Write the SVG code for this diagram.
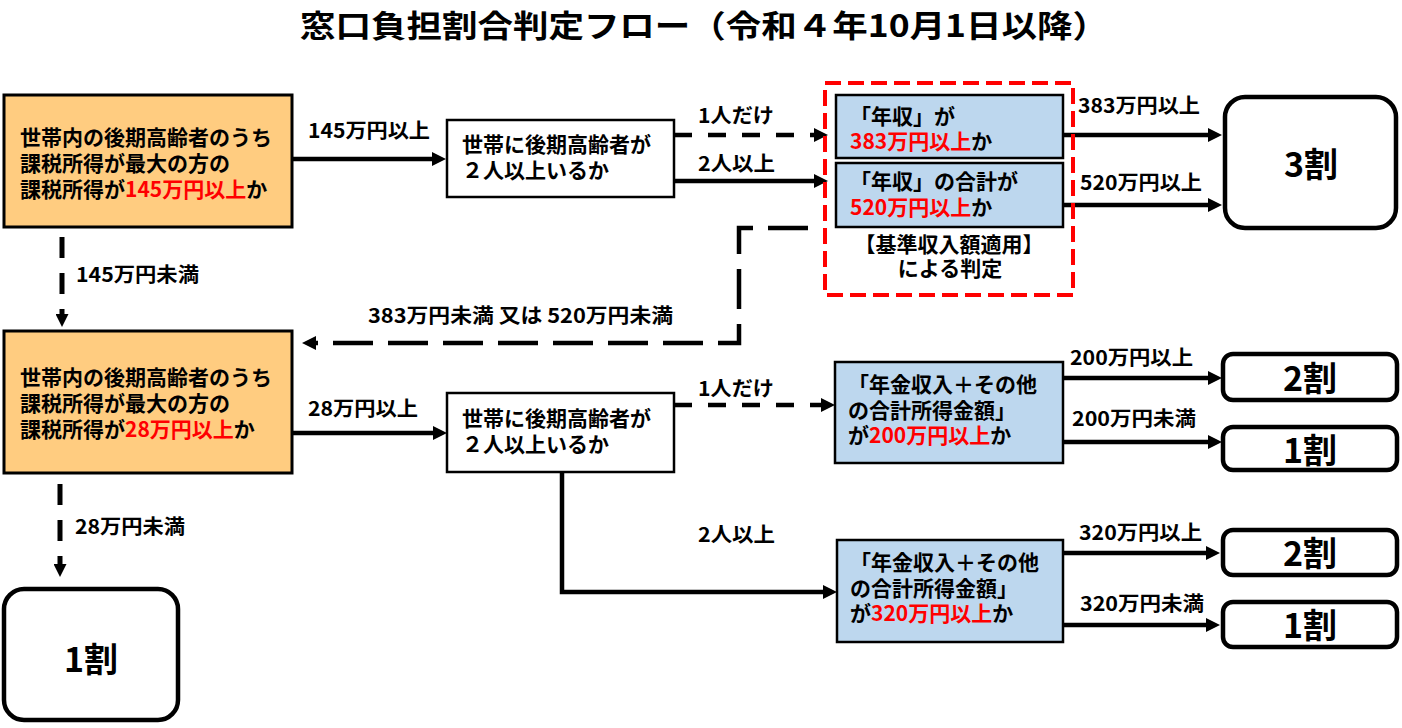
<svg xmlns="http://www.w3.org/2000/svg" width="1402" height="728" viewBox="0 0 1402 728">
<style>
text{font-family:"Noto Sans CJK JP","Noto Sans",sans-serif;fill:#000;font-weight:bold}
.title{font-size:31px}
.bt{font-size:21px}
.lb{font-size:20px}
.res{font-size:34px;text-anchor:middle}
.red{fill:#FF0000}
.orange{fill:#FFCC80;stroke:#000;stroke-width:3}
.white{fill:#FFF;stroke:#000;stroke-width:2.5}
.blue{fill:#BDD7EE;stroke:#000;stroke-width:2.5}
.result{fill:#FFF;stroke:#000;stroke-width:4.5}
.solid{fill:none;stroke:#000;stroke-width:4.5;marker-end:url(#ah)}
.dash{fill:none;stroke:#000;stroke-width:4.5;stroke-dasharray:18 16;marker-end:url(#ah)}
.dashlong{fill:none;stroke:#000;stroke-width:4.5;stroke-dasharray:40 15;marker-end:url(#ah)}
.dashv{fill:none;stroke:#000;stroke-width:5;stroke-dasharray:21 15;marker-end:url(#ahs)}
</style>
<defs>
<marker id="ah" viewBox="0 0 10 10" refX="0" refY="5" markerUnits="userSpaceOnUse" markerWidth="14" markerHeight="14" orient="auto"><path d="M0,0 L10,5 L0,10 z" fill="#000"/></marker>
<marker id="ahs" viewBox="0 0 10 10" refX="0" refY="5" markerUnits="userSpaceOnUse" markerWidth="13" markerHeight="13" orient="auto"><path d="M0,0 L10,5 L0,10 z" fill="#000"/></marker>
</defs>
<rect width="1402" height="728" fill="#FFF"/>
<text class="title" x="300" y="37" textLength="808" lengthAdjust="spacingAndGlyphs">窓口負担割合判定フロー（令和４年10月1日以降）</text>

<g id="connectors">
<path class="solid" d="M292,159 H432"/>
<path class="dash" d="M674,135 H814"/>
<path class="solid" d="M674,181 H814"/>
<path class="solid" d="M1063,135 H1208"/>
<path class="solid" d="M1063,205 H1208"/>
<path class="dashlong" d="M808,228 H739 V343 H316"/>
<path class="dashv" d="M62,237 V314"/>
<path class="solid" d="M292,433 H433"/>
<path class="dash" d="M674,405 H821"/>
<path class="solid" d="M562,472 V592 H823"/>
<path class="solid" d="M1063,378 H1208"/>
<path class="solid" d="M1063,442 H1208"/>
<path class="solid" d="M1064,553 H1206"/>
<path class="solid" d="M1064,625 H1206"/>
<path class="dashv" d="M60,484 V564"/>
<text class="lb" x="308" y="138" textLength="122" lengthAdjust="spacingAndGlyphs">145万円以上</text>
<text class="lb" x="698" y="123" textLength="76" lengthAdjust="spacingAndGlyphs">1人だけ</text>
<text class="lb" x="698" y="171" textLength="77" lengthAdjust="spacingAndGlyphs">2人以上</text>
<text class="lb" x="1078" y="113" textLength="122" lengthAdjust="spacingAndGlyphs">383万円以上</text>
<text class="lb" x="1080" y="190" textLength="122" lengthAdjust="spacingAndGlyphs">520万円以上</text>
<text class="lb" x="76" y="282" textLength="123" lengthAdjust="spacingAndGlyphs">145万円未満</text>
<text class="lb" x="368" y="323" textLength="305" lengthAdjust="spacingAndGlyphs">383万円未満 又は 520万円未満</text>
<text class="lb" x="308" y="416" textLength="110" lengthAdjust="spacingAndGlyphs">28万円以上</text>
<text class="lb" x="698" y="396" textLength="76" lengthAdjust="spacingAndGlyphs">1人だけ</text>
<text class="lb" x="698" y="542" textLength="77" lengthAdjust="spacingAndGlyphs">2人以上</text>
<text class="lb" x="1070" y="365" textLength="123" lengthAdjust="spacingAndGlyphs">200万円以上</text>
<text class="lb" x="1072" y="426" textLength="124" lengthAdjust="spacingAndGlyphs">200万円未満</text>
<text class="lb" x="1079" y="540" textLength="123" lengthAdjust="spacingAndGlyphs">320万円以上</text>
<text class="lb" x="1080" y="611" textLength="124" lengthAdjust="spacingAndGlyphs">320万円未満</text>
<text class="lb" x="75" y="534" textLength="110" lengthAdjust="spacingAndGlyphs">28万円未満</text>
</g>

<g id="n-box1">
<rect class="orange" x="4" y="95" width="288" height="132"/>
<text class="bt" x="20" y="145">世帯内の後期高齢者のうち</text>
<text class="bt" x="20" y="171">課税所得が最大の方の</text>
<text class="bt" x="20" y="197">課税所得が<tspan class="red">145万円以上</tspan>か</text>
</g>

<g id="n-box2">
<rect class="white" x="447" y="120" width="227" height="77"/>
<text class="bt" x="462" y="152">世帯に後期高齢者が</text>
<text class="bt" x="462" y="178">２人以上いるか</text>
</g>

<g id="n-redgroup">
<rect x="825" y="83" width="248" height="212" fill="none" stroke="#FF0000" stroke-width="4" stroke-dasharray="16 7"/>
<text class="bt" x="949" y="252" text-anchor="middle">【基準収入額適用】</text>
<text class="bt" x="950" y="276" text-anchor="middle">による判定</text>
</g>

<g id="n-blue1">
<rect class="blue" x="836" y="95" width="227" height="63"/>
<text class="bt" x="850" y="124">「年収」が</text>
<text class="bt" x="850" y="149"><tspan class="red">383万円以上</tspan>か</text>
</g>

<g id="n-blue2">
<rect class="blue" x="836" y="163" width="227" height="64"/>
<text class="bt" x="850" y="189">「年収」の合計が</text>
<text class="bt" x="850" y="215"><tspan class="red">520万円以上</tspan>か</text>
</g>

<g id="n-r3">
<rect class="result" x="1225" y="97" width="171" height="131" rx="20"/>
<text class="res" x="1311" y="177">3割</text>
</g>

<g id="n-box3">
<rect class="orange" x="4" y="331" width="288" height="142"/>
<text class="bt" x="20" y="385">世帯内の後期高齢者のうち</text>
<text class="bt" x="20" y="411">課税所得が最大の方の</text>
<text class="bt" x="20" y="437">課税所得が<tspan class="red">28万円以上</tspan>か</text>
</g>

<g id="n-box4">
<rect class="white" x="447" y="393" width="227" height="79"/>
<text class="bt" x="462" y="426">世帯に後期高齢者が</text>
<text class="bt" x="462" y="452">２人以上いるか</text>
</g>

<g id="n-blue200">
<rect class="blue" x="835" y="362" width="228" height="101"/>
<text class="bt" x="848" y="392">「年金収入＋その他</text>
<text class="bt" x="848" y="418">の合計所得金額」</text>
<text class="bt" x="848" y="443">が<tspan class="red">200万円以上</tspan>か</text>
</g>

<g id="n-r2a">
<rect class="result" x="1223" y="354" width="174" height="46" rx="10"/>
<text class="res" x="1310" y="391">2割</text>
</g>
<g id="n-r1a">
<rect class="result" x="1223" y="427" width="174" height="43" rx="10"/>
<text class="res" x="1310" y="463">1割</text>
</g>

<g id="n-blue320">
<rect class="blue" x="837" y="540" width="226" height="102"/>
<text class="bt" x="850" y="570">「年金収入＋その他</text>
<text class="bt" x="850" y="596">の合計所得金額」</text>
<text class="bt" x="850" y="621">が<tspan class="red">320万円以上</tspan>か</text>
</g>

<g id="n-r2b">
<rect class="result" x="1223" y="530" width="174" height="45" rx="10"/>
<text class="res" x="1310" y="566">2割</text>
</g>
<g id="n-r1b">
<rect class="result" x="1223" y="602" width="174" height="45" rx="10"/>
<text class="res" x="1310" y="638">1割</text>
</g>

<g id="n-r1main">
<rect class="result" x="4" y="589" width="174" height="131" rx="20"/>
<text class="res" x="91" y="672">1割</text>
</g>
</svg>
